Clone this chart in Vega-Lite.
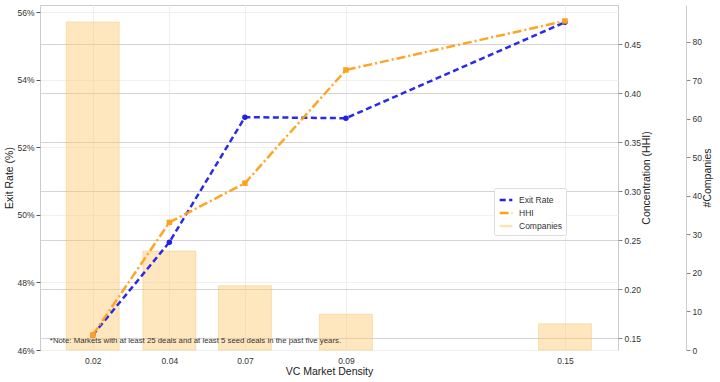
{
  "$schema": "https://vega.github.io/schema/vega-lite/v6.json",
  "width": 578,
  "height": 345,
  "autosize": {"type": "none"},
  "padding": {"left": 40, "top": 5, "right": 102, "bottom": 32},
  "background": "white",
  "config": {
    "font": "Liberation Sans",
    "view": {"stroke": "#cccccc"},
    "axis": {
      "labelFontSize": 8.5,
      "titleFontSize": 10.5,
      "labelColor": "#333333",
      "titleColor": "#222222",
      "titleFontWeight": "normal",
      "domainColor": "#cccccc",
      "tickColor": "#555555",
      "tickSize": 4
    },
    "legend": {
      "title": null,
      "orient": "none",
      "legendX": 454,
      "legendY": 183,
      "labelFontSize": 8.5,
      "labelColor": "#333333",
      "symbolType": "stroke",
      "symbolOpacity": 1,
      "symbolSize": 160,
      "rowPadding": -2,
      "labelOffset": 5,
      "padding": 4,
      "strokeColor": "#dddddd",
      "fillColor": "white",
      "cornerRadius": 2
    }
  },
  "data": {
    "values": [
      {"density": 0.02, "exit": 46.44, "hhi": 0.153, "companies": 85.2},
      {"density": 0.0411, "exit": 49.19, "hhi": 0.268, "companies": 25.7},
      {"density": 0.0619, "exit": 52.89, "hhi": 0.308, "companies": 16.7},
      {"density": 0.0897, "exit": 52.86, "hhi": 0.4235, "companies": 9.3},
      {"density": 0.15, "exit": 55.7, "hhi": 0.4735, "companies": 6.8}
    ]
  },
  "encoding": {
    "x": {
      "field": "density",
      "type": "quantitative",
      "scale": {"domain": [0.00549, 0.1646], "nice": false, "zero": false, "padding": 0},
      "axis": {
        "title": "VC Market Density",
        "values": [0.02, 0.0411, 0.0619, 0.0897, 0.15],
        "labelExpr": "datum.value < 0.03 ? '0.02' : datum.value < 0.05 ? '0.04' : datum.value < 0.07 ? '0.07' : datum.value < 0.1 ? '0.09' : '0.15'",
        "grid": true,
        "gridColor": "#eeeeee",
        "ticks": false,
        "domain": false,
        "labelPadding": 6,
        "titlePadding": 2
      }
    }
  },
  "layer": [
    {
      "layer": [
        {
          "mark": {"type": "bar", "width": 53, "fillOpacity": 0.45, "stroke": "#f0b040", "strokeOpacity": 0.5, "strokeWidth": 0.6},
          "encoding": {
            "y": {
              "field": "companies",
              "type": "quantitative",
              "scale": {"domain": [0, 89.6], "nice": false, "zero": false},
              "axis": {
                "orient": "right",
                "offset": 68,
                "title": "#Companies",
                "titleAngle": -90,
                "titleBaseline": "top",
                "values": [0, 10, 20, 30, 40, 50, 60, 70, 80],
                "grid": false,
                "domain": true,
                "domainColor": "#cccccc",
                "tickColor": "#888888",
                "titlePadding": 1
              }
            },
            "fill": {
              "datum": "Companies",
              "type": "nominal",
              "scale": {"domain": ["Exit Rate", "HHI", "Companies"], "range": ["#1f1fe8", "#ffa01a", "#fdc96f"]}
            }
          }
        },
        {
          "data": {"values": [{"pos": 0.0082, "level": 2.3, "note": "*Note: Markets with at least 25 deals and at least 5 seed deals in the past five years."}]},
          "mark": {"type": "text", "align": "left", "baseline": "middle", "fontSize": 7.8, "color": "#333333"},
          "encoding": {
            "x": {"field": "pos", "type": "quantitative"},
            "y": {"field": "level", "type": "quantitative"},
            "text": {"field": "note"}
          }
        }
      ]
    },
    {
      "layer": [
        {
          "mark": {"type": "line", "opacity": 0.95},
          "encoding": {
            "stroke": {"datum": "Exit Rate", "type": "nominal", "scale": {"domain": ["Exit Rate", "HHI", "Companies"], "range": ["#1f1fe8", "#ffa01a", "#fde4b6"]}},
            "strokeDash": {"datum": "Exit Rate", "type": "nominal", "scale": {"domain": ["Exit Rate", "HHI", "Companies"], "range": [[6, 3.5], [9, 3, 2, 3], [1, 0]]}},
            "strokeWidth": {"datum": "Exit Rate", "type": "nominal", "scale": {"domain": ["Exit Rate", "HHI", "Companies"], "range": [2.5, 2.5, 6]}}
          }
        },
        {
          "mark": {"type": "point", "filled": true, "shape": "circle", "size": 30, "color": "#1f1fe8", "opacity": 1}
        }
      ],
      "encoding": {
        "y": {
          "field": "exit",
          "type": "quantitative",
          "scale": {"domain": [46, 56.21], "nice": false, "zero": false},
          "axis": {
            "orient": "left",
            "title": "Exit Rate (%)",
            "values": [46, 48, 50, 52, 54, 56],
            "labelExpr": "datum.value + '%'",
            "grid": true,
            "gridColor": "#f0f0f0",
            "domain": false,
            "titlePadding": 2
          }
        }
      }
    },
    {
      "layer": [
        {
          "mark": {"type": "line", "opacity": 0.95},
          "encoding": {
            "stroke": {"datum": "HHI", "type": "nominal"},
            "strokeDash": {"datum": "HHI", "type": "nominal"},
            "strokeWidth": {"datum": "HHI", "type": "nominal"}
          }
        },
        {
          "mark": {"type": "point", "filled": true, "shape": "square", "size": 30, "color": "#ffa01a", "opacity": 1}
        }
      ],
      "encoding": {
        "y": {
          "field": "hhi",
          "type": "quantitative",
          "scale": {"domain": [0.1378, 0.4898], "nice": false, "zero": false},
          "axis": {
            "orient": "right",
            "title": "Concentration (HHI)",
            "titleAngle": -90,
            "titleBaseline": "top",
            "values": [0.15, 0.2, 0.25, 0.3, 0.35, 0.4, 0.45],
            "format": ".2f",
            "grid": true,
            "gridColor": "#d4d4d4",
            "domain": false,
            "tickColor": "#888888",
            "titlePadding": 1
          }
        }
      }
    }
  ],
  "resolve": {"scale": {"y": "independent"}}
}
